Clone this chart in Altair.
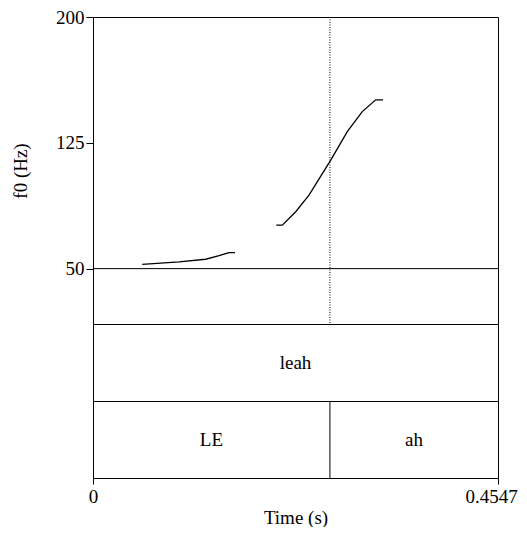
import altair as alt
import pandas as pd

# Data
seg1_time = [0.0553, 0.0966, 0.1265, 0.1415, 0.1527, 0.1594]
seg1_f0 = [52.6, 54.0, 55.6, 57.7, 59.6, 59.6]
seg2_time = [0.2058, 0.2125, 0.2276, 0.2425, 0.2669, 0.2855, 0.3023, 0.3174, 0.3256]
seg2_f0 = [75.9, 75.9, 83.9, 93.8, 114.7, 131.7, 143.6, 150.6, 150.6]

T_END = 0.4547
Y_TICKS = [50, 125, 200]
Y_MIN = 17.0  # bottom of the pitch panel (below 50 Hz line)

word_labels = ["leah"]
word_start = [0.0]
word_end = [T_END]

phone_labels = ["LE", "ah"]
phone_start = [0.0, 0.266]
phone_end = [0.266, T_END]

boundaries = [0.266]

FONT = "Liberation Serif"
FS = 19
W = 405

pitch_df = pd.DataFrame({
    "t": seg1_time + seg2_time,
    "f0": seg1_f0 + seg2_f0,
    "seg": ["a"] * len(seg1_time) + ["b"] * len(seg2_time),
})
bnd_df = pd.DataFrame({"t": boundaries})
word_df = pd.DataFrame({"label": word_labels, "start": word_start, "end": word_end})
word_df["mid"] = (word_df["start"] + word_df["end"]) / 2
phone_df = pd.DataFrame({"label": phone_labels, "start": phone_start, "end": phone_end})
phone_df["mid"] = (phone_df["start"] + phone_df["end"]) / 2

xscale = alt.Scale(domain=[0, T_END], nice=False, zero=False)

line = alt.Chart(pitch_df).mark_line(color="black", strokeWidth=1.3).encode(
    x=alt.X("t:Q", scale=xscale, axis=None),
    y=alt.Y("f0:Q", scale=alt.Scale(domain=[Y_MIN, 200], nice=False, zero=False),
            axis=alt.Axis(values=Y_TICKS, title="f0 (Hz)", domain=False, grid=False,
                          tickSize=7, tickColor="black", labelPadding=2,
                          labelColor="black", titleColor="black", titlePadding=25)),
    detail="seg:N",
)
hline = alt.Chart(pd.DataFrame({"f": [50]})).mark_rule(color="black", strokeWidth=1).encode(
    y=alt.Y("f:Q")
)
dotted = alt.Chart(bnd_df).mark_rule(color="black", strokeWidth=1, strokeDash=[1, 1.5]).encode(
    x=alt.X("t:Q", scale=xscale, axis=None)
)
pitch = alt.layer(hline, dotted, line).properties(width=W, height=307)

word_tier = alt.Chart(word_df).mark_text(font=FONT, fontSize=FS, color="black").encode(
    x=alt.X("mid:Q", scale=xscale, axis=None),
    text="label:N",
).properties(width=W, height=77)

phone_text = alt.Chart(phone_df).mark_text(font=FONT, fontSize=FS, color="black").encode(
    x=alt.X("mid:Q", scale=xscale,
            axis=alt.Axis(values=[0, T_END], format=".4~f", title="Time (s)", grid=False,
                          domain=False, tickSize=6, tickColor="black", labelPadding=3,
                          labelOffset={"condition": {"test": "datum.value > 0.4", "value": -7},
                                       "value": 0},
                          labelColor="black", titleColor="black", titlePadding=2,
                          labelOverlap=False, labelFlush=False)),
    text="label:N",
)
phone_bnd = alt.Chart(bnd_df).mark_rule(color="black", strokeWidth=1).encode(
    x=alt.X("t:Q", scale=xscale)
)
phone_tier = alt.layer(phone_bnd, phone_text).properties(width=W, height=77)

chart = alt.vconcat(pitch, word_tier, phone_tier, spacing=0, bounds="flush").resolve_scale(
    x="shared"
).properties(
    padding={"left": 3, "top": -1, "right": 0, "bottom": -1},
    background="white",
).configure_view(stroke="black", strokeWidth=1).configure_axis(
    labelFont=FONT, labelFontSize=FS, titleFont=FONT, titleFontSize=FS,
    titleFontWeight="normal",
).configure_text(font=FONT)

chart.save("out.html", embed_options={"renderer": "svg", "actions": False})
